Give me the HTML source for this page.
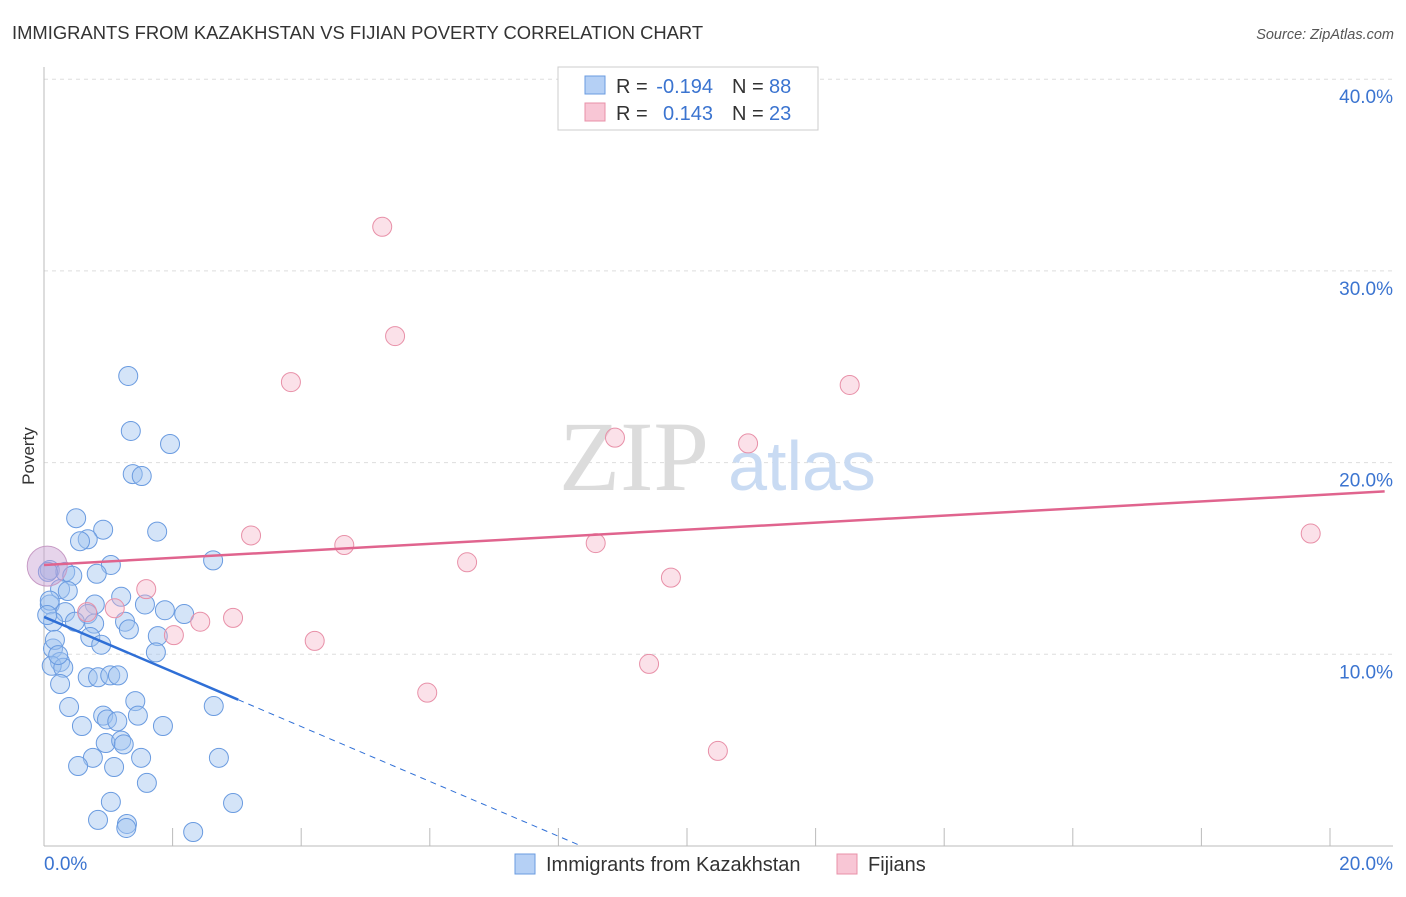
<!DOCTYPE html>
<html><head><meta charset="utf-8"><style>
body{margin:0;background:#fff;font-family:"Liberation Sans",sans-serif;}
</style></head><body>
<svg width="1406" height="892" xmlns="http://www.w3.org/2000/svg" font-family="Liberation Sans, sans-serif">
<text x="12" y="39" font-size="18.4" fill="#333">IMMIGRANTS FROM KAZAKHSTAN VS FIJIAN POVERTY CORRELATION CHART</text>
<text x="1394" y="39" font-size="14.5" fill="#555" text-anchor="end" font-style="italic">Source: ZipAtlas.com</text>
<g id="grid"></g>
<text x="634" y="490" font-size="100" fill="#dcdcdc" style="font-family:'Liberation Serif',serif" text-anchor="middle">ZIP</text>
<text x="802" y="490" font-size="70" fill="#c9dbf3" text-anchor="middle">atlas</text>
<g id="marks"></g>
<text x="34" y="456" font-size="17" fill="#333" text-anchor="middle" transform="rotate(-90 34 456)">Poverty</text>
<g>
<rect x="558" y="67" width="260" height="63" fill="#fff" stroke="#ccc"/>
<rect x="585" y="76" width="20" height="18" fill="#b5d0f5" stroke="#6a9be0"/>
<rect x="585" y="103" width="20" height="18" fill="#f8c6d5" stroke="#e890a8"/>
<text x="616" y="93" font-size="20" fill="#333">R =</text>
<text x="713" y="93" font-size="20" fill="#3b74d0" text-anchor="end">-0.194</text>
<text x="732" y="93" font-size="20" fill="#333">N =</text>
<text x="769" y="93" font-size="20" fill="#3b74d0">88</text>
<text x="616" y="120" font-size="20" fill="#333">R =</text>
<text x="713" y="120" font-size="20" fill="#3b74d0" text-anchor="end">0.143</text>
<text x="732" y="120" font-size="20" fill="#333">N =</text>
<text x="769" y="120" font-size="20" fill="#3b74d0">23</text>
</g>
<g>
<rect x="515" y="854" width="20" height="20" fill="#b5d0f5" stroke="#6a9be0"/>
<text x="546" y="871" font-size="20" fill="#333">Immigrants from Kazakhstan</text>
<rect x="837" y="854" width="20" height="20" fill="#f8c6d5" stroke="#e890a8"/>
<text x="868" y="871" font-size="20" fill="#333">Fijians</text>
</g>
</svg>
<script>
const yTicks=[10,20,30,40];
const xTickLabels=["0.0%","20.0%"];
const blueX=[1.31,1.35,1.96,1.38,1.52,0.50,0.92,1.76,0.68,0.56,2.63,1.04,0.09,0.33,0.44,0.82,0.25,0.37,1.20,0.79,1.57,0.09,1.88,2.18,0.33,0.68,0.14,0.48,0.78,1.26,1.32,1.77,0.72,0.89,1.74,0.14,0.25,0.12,0.30,0.25,0.68,0.84,1.03,1.15,1.42,0.39,0.92,0.98,1.14,1.46,1.85,2.64,0.59,0.96,1.20,1.24,0.76,1.51,2.72,0.53,1.09,1.60,1.04,2.94,0.84,1.29,1.28,2.32,0.09,0.05,0.17,0.22,0.06];
const blueY=[24.52,21.65,20.97,19.4,19.3,17.1,16.5,16.4,16.0,15.9,14.9,14.66,14.4,14.3,14.1,14.2,13.4,13.3,13.0,12.6,12.6,12.6,12.3,12.1,12.2,12.1,11.7,11.7,11.6,11.7,11.3,10.95,10.9,10.5,10.1,10.3,9.6,9.4,9.3,8.45,8.8,8.8,8.9,8.9,7.56,7.25,6.8,6.6,6.5,6.8,6.26,7.3,6.26,5.37,5.5,5.3,4.6,4.6,4.6,4.17,4.12,3.29,2.3,2.24,1.36,1.15,0.94,0.73,12.8,12.05,10.75,9.96,14.3];
const pinkX=[5.26,5.46,3.84,12.53,8.88,10.95,3.22,4.67,8.58,6.58,9.75,1.59,1.10,2.43,2.94,2.02,4.21,5.96,9.41,10.48,19.7,0.67];
const pinkY=[32.3,26.6,24.2,24.05,21.3,21.0,16.2,15.7,15.8,14.8,14.0,13.4,12.4,11.7,11.9,11.0,10.7,8.0,9.5,4.96,16.3,12.2];
const bigPink=[0.05,14.6];
const blueTrend=[11.95,-1.43];
const pinkTrend=[14.66,0.184];
const X=v=>44+v*64.3, Y=v=>846-v*19.17;
const NS="http://www.w3.org/2000/svg";
function mk(p,t,a){const e=document.createElementNS(NS,t);for(const k in a)e.setAttribute(k,a[k]);p.appendChild(e);return e;}
const g=document.getElementById('grid'), m=document.getElementById('marks');
yTicks.forEach(t=>{
 const l=mk(g,'line',{x1:44,x2:1393,y1:Y(t),y2:Y(t),stroke:'#ddd','stroke-dasharray':'4 4'});
 
 
 const tx=mk(g,'text',{x:1393,y:Y(t)+24,'font-size':19,fill:'#3b74d0','text-anchor':'end'});
 tx.textContent=t.toFixed(1)+'%';
 
 
});
const ax=mk(g,'line',{x1:44,x2:44,y1:67,y2:846,stroke:'#bbb'});


const bx=mk(g,'line',{x1:44,x2:1393,y1:846,y2:846,stroke:'#bbb'});


for(let i=1;i<=10;i++){const t=mk(g,'line',{x1:X(i*2),x2:X(i*2),y1:828,y2:846,stroke:'#bbb'});
 
 }
[[0,'start',44],[20,'end',1393]].forEach((d,i)=>{const t=mk(g,'text',{x:d[2],y:870,'font-size':19,fill:'#3b74d0','text-anchor':d[1]});t.textContent=xTickLabels[i];
 
 });
blueX.forEach((x,i)=>{const c=mk(m,'circle',{cx:X(x),cy:Y(blueY[i]),r:9.5,fill:'rgba(160,196,240,0.45)',stroke:'#6a9be0','stroke-width':1});
 
 });
pinkX.forEach((x,i)=>{const c=mk(m,'circle',{cx:X(x),cy:Y(pinkY[i]),r:9.5,fill:'rgba(245,180,200,0.4)',stroke:'#e890a8','stroke-width':1});
 
 });
const bp=mk(m,'circle',{cx:X(bigPink[0]),cy:Y(bigPink[1]),r:20,fill:'rgba(200,160,210,0.45)',stroke:'#c79bc5'});


const pl=mk(m,'line',{x1:X(0),y1:Y(pinkTrend[0]),x2:X(20.85),y2:Y(pinkTrend[0]+pinkTrend[1]*20.85),stroke:'#e0648e','stroke-width':2.5});


const bl=mk(m,'line',{x1:X(0),y1:Y(blueTrend[0]),x2:X(3.02),y2:Y(blueTrend[0]+blueTrend[1]*3.02),stroke:'#2f6fd6','stroke-width':2.5});


const xe=-blueTrend[0]/blueTrend[1];
const bd=mk(m,'line',{x1:X(3.02),y1:Y(blueTrend[0]+blueTrend[1]*3.02),x2:X(xe),y2:Y(0),stroke:'#2f6fd6','stroke-width':1,'stroke-dasharray':'6 5'});


</script>
</body></html>
